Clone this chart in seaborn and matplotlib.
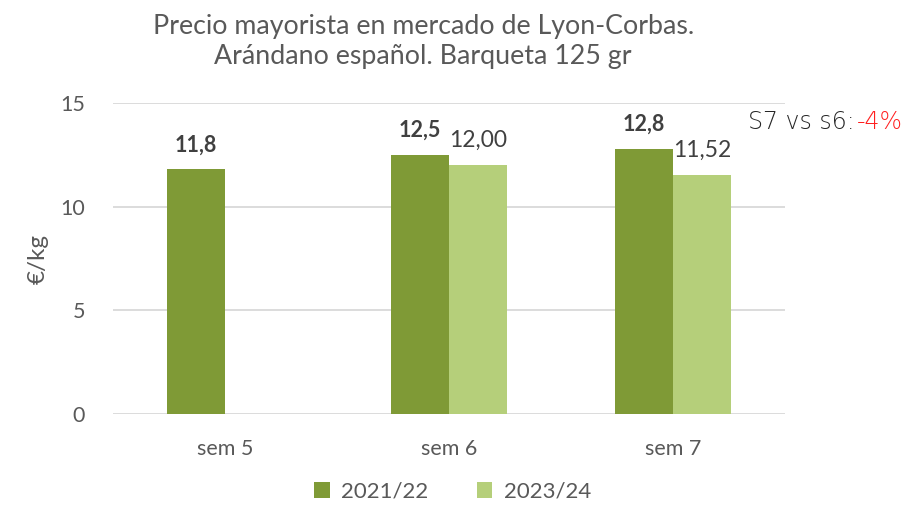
import numpy as np
import pandas as pd
import matplotlib.pyplot as plt
import seaborn as sns

# datos
semanas = ["sem 5", "sem 6", "sem 7"]
precio_2122 = [11.8, 12.5, 12.8]
precio_2324 = [np.nan, 12.00, 11.52]
campanas = ["2021/22", "2023/24"]

df = pd.DataFrame({
    "semana": semanas * 2,
    "campana": [campanas[0]] * 3 + [campanas[1]] * 3,
    "precio": precio_2122 + precio_2324,
}).dropna()

sns.set_style("white")
plt.rcParams["font.family"] = ["Lato", "DejaVu Sans"]
gris = "#595959"

fig = plt.figure(figsize=(9.14, 5.09), dpi=100)
ax = fig.add_axes([0.1236, 0.1866, 0.7352, 0.611])

sns.barplot(
    data=df, x="semana", y="precio", hue="campana", order=semanas, hue_order=campanas,
    palette=["#7f9a36", "#b5cf7a"], width=0.52, errorbar=None,
    saturation=1, linewidth=0, ax=ax, legend=True,
)

# etiquetas de datos
for cont, vals, dec, peso, tam in zip(ax.containers, [precio_2122, precio_2324], [1, 2],
                                      ["bold", "normal"], [15.5, 16.5]):
    etiquetas = [f"{v:.{dec}f}".replace(".", ",") for v in vals if not np.isnan(v)]
    ax.bar_label(cont, labels=etiquetas, padding=10, fontsize=tam, color="#404040",
                 fontweight=peso)

ax.set_ylim(0, 15)
ax.set_xlim(-0.5, 2.5)
ax.set_yticks([0, 5, 10, 15])
ax.yaxis.grid(True, color="#d9d9d9", linewidth=1.3)
ax.set_axisbelow(True)
for s in ["top", "right", "left", "bottom"]:
    ax.spines[s].set_visible(False)
ax.tick_params(axis="both", length=0, labelsize=15.5, colors=gris)
ax.tick_params(axis="x", pad=18)
ax.tick_params(axis="y", pad=20)
ax.set_xlabel("")
ax.set_ylabel("€/kg", fontsize=17.5, color=gris, labelpad=8)

fig.suptitle("Precio mayorista en mercado de Lyon-Corbas.\nArándano español. Barqueta 125 gr",
             x=0.463, y=0.972, fontsize=19.3, color=gris, linespacing=1.25)

h, l = ax.get_legend_handles_labels()
ax.get_legend().remove()
fig.legend(h, l, loc="lower center", bbox_to_anchor=(0.495, -0.025), ncol=2, frameon=False,
           fontsize=16, labelcolor=gris, handlelength=0.7, handleheight=0.7,
           handletextpad=0.5, columnspacing=2.2)

# comentario variación
fig.text(0.818, 0.746, "S7 vs s6:", fontsize=17, color="#262626",
         family=["DejaVu Sans"], fontweight="light")
fig.text(0.937, 0.746, "-4%", fontsize=17, color="#ff2020",
         family=["DejaVu Sans"], fontweight="light")

fig.savefig("out.png", dpi=100)
